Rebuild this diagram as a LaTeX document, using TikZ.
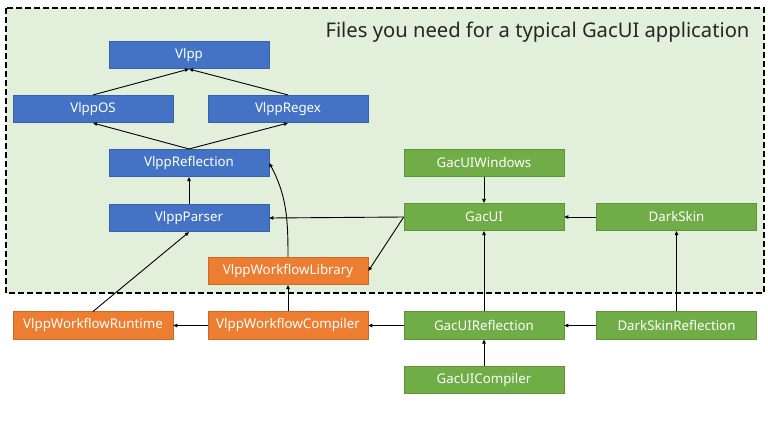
\documentclass[tikz,border=0pt]{standalone}
\usepackage{fontspec}
\setmainfont{Noto Sans}
\usetikzlibrary{arrows.meta}
\definecolor{bblue}{HTML}{4472C4}
\definecolor{bgreen}{HTML}{70AD47}
\definecolor{borange}{HTML}{ED7D31}
\definecolor{bgfill}{HTML}{E2EFDA}
\tikzset{
  box/.style={minimum width=160pt, minimum height=27.5pt, inner sep=0pt, text=white, font=\fontsize{13.3}{15}\selectfont, line width=0.6pt},
  bluebox/.style={box, fill=bblue, draw=bblue!85!black},
  greenbox/.style={box, fill=bgreen, draw=bgreen!85!black},
  orangebox/.style={box, fill=borange, draw=borange!85!black},
  conn/.style={line width=0.9pt, -{Triangle[length=4pt,width=3.5pt]}}
}
\begin{document}
\begin{tikzpicture}[x=1pt,y=-1pt]
\useasboundingbox (0,0) rectangle (768,432);
\fill[white] (0,0) rectangle (768,432);
\draw[fill=bgfill, line width=2.3pt, dash pattern=on 6pt off 3pt] (6,8) rectangle (764,293);
\node[anchor=base west, font=\fontsize{20.2}{24}\selectfont, text=black!85] (title) at (322,37) {Files you need for a typical GacUI application};

\node[bluebox] (vlpp) at (189,55) {Vlpp};
\node[bluebox] (vlppos) at (93,109) {VlppOS};
\node[bluebox] (vlppregex) at (288,109) {VlppRegex};
\node[bluebox] (vlppref) at (189,163) {VlppReflection};
\node[bluebox] (vlppparser) at (189,218) {VlppParser};
\node[orangebox] (wflib) at (288,271) {VlppWorkflowLibrary};
\node[orangebox] (wfrun) at (93,325.5) {VlppWorkflowRuntime};
\node[orangebox] (wfcomp) at (288,325.5) {VlppWorkflowCompiler};
\node[greenbox] (gacwin) at (484,163) {GacUIWindows};
\node[greenbox] (gacui) at (484,217) {GacUI};
\node[greenbox] (dark) at (676.5,217) {DarkSkin};
\node[greenbox] (gacref) at (484,325.5) {GacUIReflection};
\node[greenbox] (darkref) at (676.5,325.5) {DarkSkinReflection};
\node[greenbox] (gaccomp) at (484,380) {GacUICompiler};

\draw[conn] (vlppos.north) -- (vlpp.south);
\draw[conn] (vlppregex.north) -- (vlpp.south);
\draw[conn] (vlppref.north) -- (vlppos.south);
\draw[conn] (vlppref.north) -- (vlppregex.south);
\draw[conn] (vlppparser.north) -- (vlppref.south);
\draw[conn] (wflib.north) to[out=90, in=-62] (vlppref.east);
\draw[conn] (gacwin.south) -- (gacui.north);
\draw[conn] (gacui.west) -- (vlppparser.east);
\draw[conn] (gacui.west) -- (wflib.east);
\draw[conn] (dark.west) -- (gacui.east);
\draw[conn] (gacref.north) -- (gacui.south);
\draw[conn] (darkref.north) -- (dark.south);
\draw[conn] (darkref.west) -- (gacref.east);
\draw[conn] (gacref.west) -- (wfcomp.east);
\draw[conn] (gaccomp.north) -- (gacref.south);
\draw[conn] (wfcomp.west) -- (wfrun.east);
\draw[conn] (wfcomp.north) -- (wflib.south);
\draw[conn] (wfrun.north) -- (vlppparser.south);
\end{tikzpicture}
\end{document}
